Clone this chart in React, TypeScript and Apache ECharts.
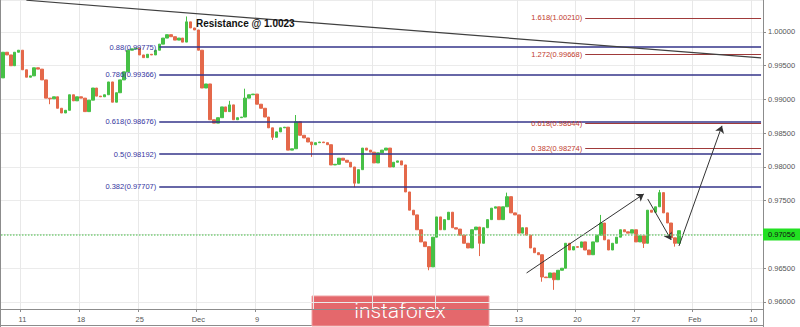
import React, { useEffect, useRef } from "react";
import * as echarts from "echarts";

// ---- Data ----
const SLOT_COUNT = 195; // time slots (1/3 trading day each), incl. empty future slots

const dateTicks = [
  { slot: 5, label: "11", show: true },
  { slot: 20, label: "18", show: true },
  { slot: 35, label: "25", show: true },
  { slot: 50, label: "Dec", show: true },
  { slot: 65, label: "9", show: true },
  { slot: 80, label: "16", show: false },
  { slot: 95, label: "23", show: false },
  { slot: 111, label: "2020", show: false },
  { slot: 132, label: "13", show: true },
  { slot: 147, label: "20", show: true },
  { slot: 162, label: "27", show: true },
  { slot: 177, label: "Feb", show: true },
  { slot: 192, label: "10", show: true },
];

const firstOpen = 0.9932;
const closes = [
  0.997, 0.9966, 0.995, 0.997, 0.9973, 0.9944, 0.9933, 0.9935, 0.9947, 0.9945,
  0.9929, 0.9902, 0.9901, 0.9904, 0.9887, 0.988, 0.9884, 0.9907, 0.9898, 0.9904,
  0.9902, 0.9882, 0.9899, 0.9917, 0.9905, 0.9904, 0.9907, 0.9926, 0.9896, 0.991,
  0.9929, 0.9941, 0.9973, 0.9975, 0.9976, 0.9966, 0.9962, 0.9967, 0.9966, 0.9973,
  0.9982, 0.9991, 0.9996, 0.9993, 0.9988, 0.9991, 0.9985, 1.0015, 1.0006, 1.0003,
  0.9973, 0.9917, 0.9923, 0.987, 0.9865, 0.9873, 0.9889, 0.9882, 0.9892, 0.987,
  0.9873, 0.9874, 0.9902, 0.9907, 0.9908, 0.9893, 0.9887, 0.9874, 0.9858, 0.9844,
  0.9852, 0.9858, 0.9859, 0.9825, 0.9827, 0.9867, 0.9847, 0.9843, 0.9837, 0.9833,
  0.9836, 0.9837, 0.9836, 0.9833, 0.9803, 0.9804, 0.9813, 0.981, 0.9807, 0.98,
  0.9776, 0.9796, 0.9828, 0.9825, 0.9822, 0.9806, 0.9821, 0.9825, 0.9828, 0.98,
  0.9807, 0.9809, 0.9803, 0.9763, 0.9736, 0.9729, 0.9707, 0.9689, 0.9682, 0.9652,
  0.9696, 0.9726, 0.9707, 0.9722, 0.9733, 0.971, 0.9708, 0.9699, 0.9687, 0.968,
  0.9707, 0.9711, 0.9687, 0.971, 0.9722, 0.9739, 0.9741, 0.9722, 0.9741, 0.9756,
  0.9732, 0.9729, 0.9702, 0.971, 0.9699, 0.968, 0.9673, 0.967, 0.9637, 0.9636,
  0.9643, 0.9633, 0.9647, 0.965, 0.9687, 0.9677, 0.9682, 0.9681, 0.9689, 0.9677,
  0.967, 0.9689, 0.9699, 0.9717, 0.9692, 0.9677, 0.9687, 0.9696, 0.9707, 0.9704,
  0.9702, 0.9707, 0.9689, 0.9698, 0.9687, 0.9736, 0.9733, 0.9741, 0.9762, 0.9732,
  0.9717, 0.9695, 0.9687, 0.97056,
];

// notable wicks: [slot, price]
const wickHighs: [number, number][] = [
  [47, 1.0023], [58, 0.9898], [62, 0.9916], [75, 0.9877], [129, 0.9762],
  [153, 0.9729], [168, 0.9766],
];
const wickLows: [number, number][] = [
  [12, 0.9893], [69, 0.984], [79, 0.9815], [85, 0.981], [90, 0.977],
  [109, 0.9647], [122, 0.9668], [138, 0.963], [141, 0.9618], [164, 0.968],
  [172, 0.9682],
];

const currentPrice = 0.97056;

const blueFibs: [string, number][] = [
  ["0.88", 0.99775],
  ["0.786", 0.99366],
  ["0.618", 0.98676],
  ["0.5", 0.98192],
  ["0.382", 0.97707],
];
const redFibs: [string, number][] = [
  ["1.618", 1.0021],
  ["1.272", 0.99668],
  ["0.618", 0.98644],
  ["0.382", 0.98274],
];
const blueFibStartSlot = 40;
const redFibStartSlot = 149;
const lineEndSlot = 194;

// trendline and arrows: [[slot, price], [slot, price]]
const trendline: [number, number][] = [[6, 1.0047], [194, 0.99616]];
const arrows: [number, number][][] = [
  [[134, 0.9643], [164, 0.976]],
  [[165, 0.97526], [171, 0.9692]],
  [[173, 0.9683], [184, 0.9861]],
];

const resistanceNote = { slot: 49, price: 1.0012, text: "Resistance @ 1.0023" };

const yMin = 0.95896;
const yMax = 1.00474;

const FONT = "'Liberation Sans', Arial, sans-serif";

export default function App() {
  const ref = useRef<HTMLDivElement>(null);

  useEffect(() => {
    document.body.style.margin = "0";
    if (!ref.current) return;
    const chart = echarts.init(ref.current, undefined, { renderer: "svg" });

    const categories = Array.from({ length: SLOT_COUNT }, (_, i) => String(i));
    const tickMap = new Map(dateTicks.map((t) => [t.slot, t]));

    const candles = closes.map((c, i) => {
      const o = i === 0 ? firstOpen : closes[i - 1];
      let lo = Math.min(o, c);
      let hi = Math.max(o, c);
      const wh = wickHighs.find((w) => w[0] === i);
      const wl = wickLows.find((w) => w[0] === i);
      if (wh) hi = Math.max(hi, wh[1]);
      if (wl) lo = Math.min(lo, wl[1]);
      return [o, c, lo, hi];
    });

    const markLines: any[] = [];
    blueFibs.forEach(([r, v]) => {
      markLines.push([
        {
          name: `${r}(${v.toFixed(5)})`,
          coord: [blueFibStartSlot, v],
          symbol: "none",
          lineStyle: { color: "#34348a", width: 1.5, type: "solid" },
          label: {
            show: true,
            position: "start",
            formatter: "{b}",
            color: "#3535a0",
            fontSize: 7.5,
            distance: 3,
            fontFamily: FONT,
          },
        },
        { coord: [lineEndSlot, v], symbol: "none" },
      ]);
    });
    redFibs.forEach(([r, v]) => {
      markLines.push([
        {
          name: `${r}(${v.toFixed(5)})`,
          coord: [redFibStartSlot, v],
          symbol: "none",
          lineStyle: { color: "#a03a3a", width: 1.2, type: "solid" },
          label: {
            show: true,
            position: "start",
            formatter: "{b}",
            color: "#c0392b",
            fontSize: 7.5,
            distance: 3,
            fontFamily: FONT,
          },
        },
        { coord: [lineEndSlot, v], symbol: "none" },
      ]);
    });
    markLines.push([
      {
        coord: trendline[0],
        symbol: "none",
        lineStyle: { color: "#404040", width: 1.2, type: "solid" },
        label: { show: false },
      },
      { coord: trendline[1], symbol: "none" },
    ]);
    arrows.forEach(([a, b]) => {
      markLines.push([
        {
          coord: a,
          symbol: "none",
          lineStyle: { color: "#333333", width: 1, type: "solid" },
          label: { show: false },
        },
        { coord: b, symbol: "arrow", symbolSize: 7 },
      ]);
    });
    markLines.push({
      yAxis: currentPrice,
      symbol: "none",
      lineStyle: { color: "#7fd07f", width: 1.5, type: "dotted" },
      label: {
        show: true,
        position: "end",
        distance: 0,
        formatter: () => currentPrice.toFixed(5),
        backgroundColor: "#22e022",
        color: "#111",
        fontSize: 7.5,
        padding: [2, 5, 2, 5],
        fontFamily: FONT,
      },
    });

    chart.setOption({
      animation: false,
      textStyle: { fontFamily: FONT },
      grid: { left: 1, right: 37, top: 0, bottom: 18 },
      xAxis: {
        type: "category",
        data: categories,
        boundaryGap: true,
        axisLine: { show: true, lineStyle: { color: "#8c8c8c" } },
        axisTick: {
          show: true,
          length: 3,
          interval: (idx: number) => !!tickMap.get(idx)?.show,
          lineStyle: { color: "#8c8c8c" },
        },
        axisLabel: {
          interval: (idx: number) => !!tickMap.get(idx)?.show,
          formatter: (_v: string, idx: number) => tickMap.get(idx)?.label ?? "",
          fontSize: 7.5,
          color: "#555",
          margin: 6,
        },
        splitLine: {
          show: true,
          interval: (idx: number) => tickMap.has(idx),
          lineStyle: { color: "#e8e8e8", width: 1 },
        },
      },
      yAxis: {
        type: "value",
        position: "right",
        min: yMin,
        max: yMax,
        splitNumber: 9,
        scale: true,
        axisLine: { show: true, lineStyle: { color: "#8c8c8c" } },
        axisTick: { show: true, length: 3, lineStyle: { color: "#8c8c8c" } },
        axisLabel: {
          formatter: (v: number) => v.toFixed(5),
          fontSize: 7.5,
          color: "#555",
          margin: 5,
          showMinLabel: false,
          showMaxLabel: false,
        },
        splitLine: { show: true, lineStyle: { color: "#ebebeb", width: 1 } },
      },
      series: [
        {
          type: "candlestick",
          data: candles,
          barWidth: 3,
          itemStyle: {
            color: "#46c046",
            color0: "#e4684a",
            borderColor: "#46c046",
            borderColor0: "#e4684a",
            borderWidth: 1,
          },
          markLine: {
            silent: true,
            animation: false,
            symbol: ["none", "none"],
            data: markLines,
          },
          markPoint: {
            silent: true,
            animation: false,
            symbol: "circle",
            symbolSize: 1,
            itemStyle: { color: "rgba(0,0,0,0)" },
            data: [
              {
                coord: [resistanceNote.slot, resistanceNote.price],
                label: {
                  show: true,
                  position: "right",
                  distance: 1,
                  formatter: resistanceNote.text,
                  fontWeight: "bold",
                  fontSize: 10,
                  color: "#111",
                  fontFamily: FONT,
                },
              },
            ],
          },
        },
      ],
      graphic: [
        {
          type: "line",
          shape: { x1: 0.5, y1: 0, x2: 0.5, y2: 327 },
          style: { stroke: "#8c8c8c", lineWidth: 1 },
          silent: true,
        },
        {
          type: "line",
          shape: { x1: 0, y1: 325.5, x2: 763, y2: 325.5 },
          style: { stroke: "#8c8c8c", lineWidth: 1 },
          silent: true,
        },
        {
          type: "line",
          shape: { x1: 763.5, y1: 300, x2: 763.5, y2: 327 },
          style: { stroke: "#8c8c8c", lineWidth: 1 },
          silent: true,
        },
        {
          type: "group",
          z: 100,
          silent: true,
          children: [
            {
              type: "rect",
              shape: { x: 312, y: 296, width: 177, height: 30 },
              style: { fill: "#e4686c", stroke: "#efa2a4", lineWidth: 1 },
            },
            {
              type: "text",
              style: {
                text: "instaforex",
                x: 400,
                y: 311,
                fill: "#ffffff",
                font: "300 21px Roboto, 'Open Sans', sans-serif",
                align: "center",
                verticalAlign: "middle",
              },
            },
          ],
        },
      ],
    });

    return () => chart.dispose();
  }, []);

  return <div ref={ref} style={{ width: 800, height: 327 }} />;
}
